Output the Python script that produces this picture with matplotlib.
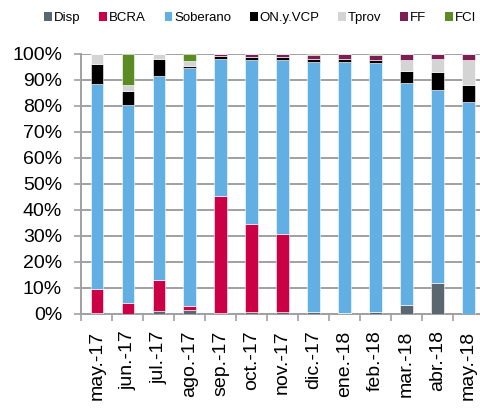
import numpy as np
import matplotlib
matplotlib.use("Agg")
import matplotlib.pyplot as plt
from matplotlib.patches import Patch
from matplotlib.ticker import FixedLocator, PercentFormatter

plt.rcParams['font.family'] = ['Liberation Sans', 'DejaVu Sans']

months = ['may.-17', 'jun.-17', 'jul.-17', 'ago.-17', 'sep.-17', 'oct.-17', 'nov.-17',
          'dic.-17', 'ene.-18', 'feb.-18', 'mar.-18', 'abr.-18', 'may.-18']

# share of each component (%), stacked bottom -> top
disp     = [0.2, 0.0, 0.9, 1.4, 0.2, 0.5, 0.5, 0.8, 0.1, 0.8, 3.5, 11.7, 0.0]
bcra     = [9.3, 4.0, 12.2, 1.7, 45.1, 34.2, 30.3, 0.0, 0.0, 0.0, 0.0, 0.0, 0.0]
soberano = [78.9, 76.4, 78.5, 91.4, 52.9, 63.1, 66.8, 96.0, 96.8, 95.7, 85.1, 74.4, 81.4]
on_vcp   = [7.7, 5.4, 6.5, 1.0, 0.8, 0.9, 1.1, 1.1, 1.1, 1.2, 4.8, 7.0, 6.7]
tprov    = [3.9, 2.1, 1.9, 1.9, 0.2, 0.2, 0.1, 0.2, 0.0, 0.0, 4.4, 4.9, 9.6]
ff       = [0.0, 0.0, 0.0, 0.0, 0.8, 1.1, 1.2, 1.5, 1.8, 1.9, 2.0, 2.0, 2.3]
fci      = [0.0, 12.1, 0.0, 2.6, 0.0, 0.0, 0.0, 0.4, 0.2, 0.4, 0.2, 0.0, 0.0]

series = [
    ('Disp', disp, '#5b6770'),
    ('BCRA', bcra, '#cc0044'),
    ('Soberano', soberano, '#62b0e3'),
    ('ON.y.VCP', on_vcp, '#000000'),
    ('Tprov', tprov, '#d4d4d4'),
    ('FF', ff, '#7b1f55'),
    ('FCI', fci, '#5b8c23'),
]

fig = plt.figure(figsize=(4.81, 4.08), dpi=100)
ax = fig.add_axes([0.1694, 0.231, 0.8364, 0.637])

x = np.arange(len(months))
bottom = np.zeros(len(months))
handles = []
for name, vals, color in series:
    vals = np.array(vals)
    ax.bar(x, vals, bottom=bottom, width=0.41, color=color,
           edgecolor='white', linewidth=0.4, zorder=3)
    bottom += vals
    handles.append(Patch(facecolor=color, label=name))

grid_c = '#a0a0a0'
ax.set_xlim(-0.5, len(months) - 0.5)
ax.set_ylim(0, 100)
ax.yaxis.set_major_locator(FixedLocator(np.arange(0, 101, 10)))
ax.yaxis.set_major_formatter(PercentFormatter(decimals=0))
ax.grid(axis='y', color=grid_c, linewidth=1.4, zorder=0)

ax.set_xticks(x)
ax.set_xticklabels(months, rotation=90)
ax.set_xticks(np.arange(-0.5, len(months), 1), minor=True)
ax.tick_params(axis='x', which='major', length=0, labelsize=14, pad=12)
ax.tick_params(axis='x', which='minor', length=5, width=1.2, color=grid_c, direction='out')
ax.tick_params(axis='y', length=5, width=1.2, color=grid_c, labelsize=14, pad=9)

for side in ['top', 'right']:
    ax.spines[side].set_visible(False)
for side in ['left', 'bottom']:
    ax.spines[side].set_color(grid_c)
    ax.spines[side].set_linewidth(1.4)

fig.legend(handles=handles, loc='upper center', bbox_to_anchor=(0.541, 0.99), ncol=7,
           frameon=False, fontsize=9.5, handlelength=0.6, handleheight=0.6,
           handletextpad=0.15, columnspacing=1.4, borderaxespad=0.2)

plt.savefig('out.png', dpi=100)
